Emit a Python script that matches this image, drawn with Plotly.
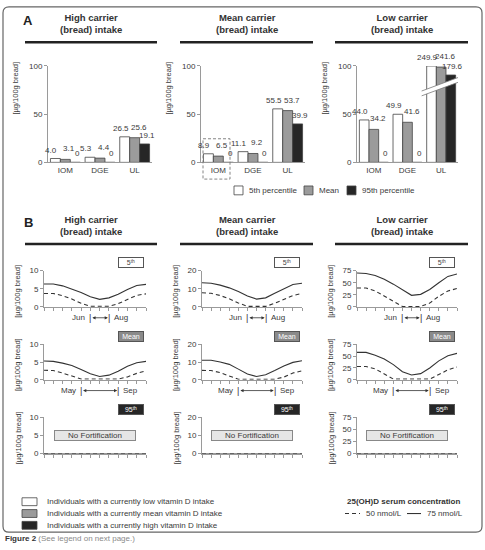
import plotly.graph_objects as go

W, H = 485, 550
FONT = "Liberation Sans, Arial, Helvetica, sans-serif"
TXT = "#3a3a3a"
AX = "#9a9a9a"

# ---------------- data ----------------
CARRIERS = ["High carrier<br>(bread) intake", "Mean carrier<br>(bread) intake", "Low carrier<br>(bread) intake"]
REFS = ["IOM", "DGE", "UL"]
PCTS = ["5th percentile", "Mean", "95th percentile"]

high_p5 = [4.0, 5.3, 26.5]
high_mean = [3.1, 4.4, 25.6]
high_p95 = [0, 0, 19.1]
meanc_p5 = [8.9, 11.1, 55.5]
meanc_mean = [6.5, 9.2, 53.7]
meanc_p95 = [0, 0, 39.9]
low_p5 = [44.0, 49.9, 249.9]
low_mean = [34.2, 41.6, 241.6]
low_p95 = [0, 0, 179.6]

MONTHS = ["Jan", "Feb", "Mar", "Apr", "May", "Jun", "Jul", "Aug", "Sep", "Oct", "Nov", "Dec"]

high_5th_75 = [6.3, 6.3, 5.8, 5.0, 4.0, 2.8, 2.1, 2.5, 3.5, 4.8, 5.9, 6.2]
high_5th_50 = [3.7, 3.7, 3.1, 2.2, 1.0, 0.2, 0.2, 0.2, 0.9, 2.1, 3.2, 3.6]
high_mean_75 = [5.3, 5.2, 4.7, 4.0, 2.9, 1.7, 0.9, 1.3, 2.4, 3.8, 4.8, 5.2]
high_mean_50 = [2.7, 2.6, 1.9, 1.0, 0.2, 0.2, 0.2, 0.2, 0.2, 0.8, 1.8, 2.5]
high_95th_75 = [0, 0, 0, 0, 0, 0, 0, 0, 0, 0, 0, 0]
high_95th_50 = [0, 0, 0, 0, 0, 0, 0, 0, 0, 0, 0, 0]

meanc_5th_75 = [13.3, 13.0, 12.0, 10.5, 8.5, 6.0, 4.3, 5.0, 7.5, 10.0, 12.3, 13.0]
meanc_5th_50 = [7.8, 7.5, 6.3, 4.5, 2.2, 0.3, 0.3, 0.3, 2.0, 4.2, 6.3, 7.4]
meanc_mean_75 = [11.0, 11.0, 10.0, 8.7, 6.0, 3.3, 1.8, 2.8, 5.2, 7.8, 9.8, 10.7]
meanc_mean_50 = [5.3, 5.2, 4.0, 2.0, 0.3, 0.3, 0.3, 0.3, 0.3, 1.5, 3.8, 5.0]
meanc_95th_75 = [0, 0, 0, 0, 0, 0, 0, 0, 0, 0, 0, 0]
meanc_95th_50 = [0, 0, 0, 0, 0, 0, 0, 0, 0, 0, 0, 0]

low_5th_75 = [70, 69, 65, 57, 47, 35, 24, 26, 36, 50, 63, 68]
low_5th_50 = [39, 39, 33, 22, 11, 1, 1, 1, 8, 22, 33, 38]
low_mean_75 = [58, 58, 52, 44, 32, 17, 10, 13, 25, 40, 51, 56]
low_mean_50 = [28, 28, 23, 12, 1.5, 1.5, 1.5, 1.5, 1.5, 11, 21, 27]
low_95th_75 = [0, 0, 0, 0, 0, 0, 0, 0, 0, 0, 0, 0]
low_95th_50 = [0, 0, 0, 0, 0, 0, 0, 0, 0, 0, 0, 0]

ROW_TAGS = ["5<sup>th</sup>", "Mean", "95<sup>th</sup>"]
ROW_WINDOWS = [("Jun", "Aug"), ("May", "Sep"), None]
LINE_YMAX = [10, 20, 75]
LINE_YTICKS = [[0, 5, 10], [0, 10, 20], [0, 25, 50, 75]]
BAR_YTICKS = [0, 50, 100]
YLABEL = "[µg/100g bread]"

bar_data = [[high_p5, high_mean, high_p95],
            [meanc_p5, meanc_mean, meanc_p95],
            [low_p5, low_mean, low_p95]]
line_data = [[(high_5th_50, high_5th_75), (high_mean_50, high_mean_75), (high_95th_50, high_95th_75)],
             [(meanc_5th_50, meanc_5th_75), (meanc_mean_50, meanc_mean_75), (meanc_95th_50, meanc_95th_75)],
             [(low_5th_50, low_5th_75), (low_mean_50, low_mean_75), (low_95th_50, low_95th_75)]]

# ---------------- layout geometry (pixels) ----------------
BAR_X = [(48, 152), (201, 305), (357, 458)]
BAR_Y = (161, 63)
LINE_X = [(44, 146), (202, 302), (357, 457)]
LINE_Y = [(308, 271), (382, 346), (457, 420)]
TITLE_CX = [91, 247, 402]
RULE_X = [(25, 157), (180, 313), (335, 468)]
BARGAP = 0.14

BAR_COLORS = ["#ffffff", "#9b9b9b", "#262626"]
TAG_BG = ["#ffffff", "#8a8a8a", "#262626"]
TAG_FG = ["#444444", "#ffffff", "#ffffff"]
LABEL_XSHIFT = [-4, 4, 2]
LABEL_YSHIFT = [2, 4, 2]


def X(p):
    return p / W


def Y(p):
    return 1 - p / H


def fmt(v):
    return "0" if v == 0 else f"{v:.1f}"


def axis_break(v):
    # broken value axis: values above 100 are drawn on a compressed upper segment
    return v if v <= 100 else 80 + (v - 100) * 20 / 150


fig = go.Figure()
layout = {}
ann = []
shapes = []
axn = [0]

base = dict(showgrid=False, zeroline=False, showline=True, linecolor=AX, linewidth=1,
            tickfont=dict(size=8, color=TXT, family=FONT), fixedrange=True)


def new_axes(xpx, ypx, xcfg, ycfg):
    axn[0] += 1
    s = "" if axn[0] == 1 else str(axn[0])
    layout["xaxis" + s] = dict(domain=[X(xpx[0]), X(xpx[1])], anchor="y" + s, **base, **xcfg)
    layout["yaxis" + s] = dict(domain=[Y(ypx[0]), Y(ypx[1])], anchor="x" + s, **base, **ycfg)
    return "x" + s, "y" + s


def text(x, y, t, size=8, color=TXT, xanchor="center", yanchor="middle", **kw):
    ann.append(dict(x=X(x), y=Y(y), xref="paper", yref="paper", text=t, showarrow=False,
                    xanchor=xanchor, yanchor=yanchor,
                    font=dict(size=size, color=color, family=FONT), **kw))


def prect(x0, y0, x1, y1, fill, line="#444", lw=0.8, dash=None):
    ln = dict(color=line, width=lw)
    if dash:
        ln["dash"] = dash
    shapes.append(dict(type="rect", xref="paper", yref="paper", x0=X(x0), x1=X(x1),
                       y0=Y(y0), y1=Y(y1), fillcolor=fill, line=ln, layer="above"))


# ---------------- panel A: bar charts ----------------
bw = (1 - BARGAP) / 3
for c in range(3):
    xa, ya = new_axes(BAR_X[c], BAR_Y,
                      dict(range=[-0.5, 2.5], tickmode="array", tickvals=[0, 1, 2], ticktext=REFS,
                           ticks=""),
                      dict(range=[0, 100], tickmode="array", tickvals=BAR_YTICKS, ticks="outside",
                           ticklen=3, tickcolor=AX))
    for s in range(3):
        vals = bar_data[c][s]
        disp = [axis_break(v) for v in vals]
        fig.add_bar(x=[0, 1, 2], y=disp, xaxis=xa, yaxis=ya,
                    marker=dict(color=BAR_COLORS[s], line=dict(color="#444", width=0.8)),
                    cliponaxis=False, showlegend=False, hoverinfo="skip", name=PCTS[s])
        for i, (v, d) in enumerate(zip(vals, disp)):
            ann.append(dict(x=i + (s - 1) * bw, y=d, xref=xa, yref=ya, text=fmt(v), showarrow=False,
                            xanchor="center", yanchor="bottom", xshift=LABEL_XSHIFT[s],
                            yshift=LABEL_YSHIFT[s], font=dict(size=8, color=TXT, family=FONT)))
    text(BAR_X[c][0] - 32, 86, YLABEL, size=7.5, textangle=-90)
    if c == 2:
        # axis break mark across the UL group
        shapes.append(dict(type="path", xref=xa, yref=ya, layer="above",
                           path="M 1.42 69 L 2.5 83 L 2.5 88 L 1.42 74 Z",
                           fillcolor="#ffffff", line=dict(width=0)))
        for yb in (69, 74):
            shapes.append(dict(type="line", xref=xa, yref=ya, layer="above",
                               x0=1.42, y0=yb, x1=2.5, y1=yb + 14, line=dict(color="#777", width=0.8)))

# dashed box around IOM in the middle chart
prect(203, 137, 230, 178, "rgba(0,0,0,0)", line="#777", lw=0.9, dash="3px,2px")

# panel A legend
lx = [(234, 243, 247), (304, 313, 317), (347, 356, 360)]
for s in range(3):
    prect(lx[s][0], 185, lx[s][1], 194, BAR_COLORS[s])
    text(lx[s][2], 189.5, PCTS[s], size=8, xanchor="left")

# ---------------- panel B: line charts ----------------
for c in range(3):
    for r in range(3):
        xa, ya = new_axes(LINE_X[c], LINE_Y[r],
                          dict(range=[0, 11], tickmode="array", tickvals=list(range(12)),
                               showticklabels=False, ticks="outside", ticklen=3, tickcolor=AX),
                          dict(range=[0, LINE_YMAX[c]], tickmode="array", tickvals=LINE_YTICKS[c],
                               ticks="outside", ticklen=3, tickcolor=AX))
        d50, d75 = line_data[c][r]
        idx = list(range(len(MONTHS)))
        fig.add_scatter(x=idx, y=d75, xaxis=xa, yaxis=ya, mode="lines", cliponaxis=False,
                        line=dict(color="#333", width=1.1), showlegend=False, hoverinfo="skip")
        fig.add_scatter(x=idx, y=d50, xaxis=xa, yaxis=ya, mode="lines", cliponaxis=False,
                        line=dict(color="#333", width=1.1, dash="4px,3px"), showlegend=False,
                        hoverinfo="skip")
        x0, x1 = LINE_X[c]
        ybot, ytop = LINE_Y[r]
        text(x0 - 26, (ybot + ytop) / 2 + 3, YLABEL, size=7.5, textangle=-90)
        # percentile tag
        ann.append(dict(x=X(x1 - 2), y=Y(ytop - 8), xref="paper", yref="paper", text=ROW_TAGS[r],
                        showarrow=False, xanchor="right", yanchor="middle", width=24, height=9,
                        bgcolor=TAG_BG[r], bordercolor="#555", borderwidth=1, borderpad=0,
                        font=dict(size=7, color=TAG_FG[r], family=FONT)))
        if r == 2:
            ann.append(dict(x=5.5, y=LINE_YMAX[c] / 2, xref=xa, yref=ya, text="No Fortification",
                            showarrow=False, width=80, height=9, bgcolor="#e6e6e6",
                            bordercolor="#888", borderwidth=1, borderpad=0,
                            font=dict(size=8, color=TXT, family=FONT)))
        win = ROW_WINDOWS[r]
        if win:
            ia, ib = MONTHS.index(win[0]), MONTHS.index(win[1])
            yp = Y(ybot + 11)
            base_ann = dict(xref=xa, yref="paper", y=yp, showarrow=False, yanchor="middle",
                            font=dict(size=8, color=TXT, family=FONT))
            ann.append(dict(base_ann, x=ia, text=win[0], xanchor="right", xshift=-3))
            ann.append(dict(base_ann, x=ib, text=win[1], xanchor="left", xshift=3))
            for ii in (ia, ib):
                ann.append(dict(base_ann, x=ii, text="|", xanchor="center",
                                font=dict(size=9, color="#333", family=FONT)))
            ann.append(dict(x=ib, y=yp, xref=xa, yref="paper", ax=ia, ay=0, axref=xa, ayref="pixel",
                            text=" ", showarrow=True, arrowhead=2, startarrowhead=2,
                            arrowside="end+start", arrowsize=0.8, startarrowsize=0.8,
                            arrowwidth=0.8, arrowcolor="#333", standoff=1, startstandoff=0,
                            font=dict(size=2)))

# ---------------- headings ----------------
text(28, 17, "<b>A</b>", size=13, color="#222")
text(28, 222, "<b>B</b>", size=13, color="#222")
for c in range(3):
    text(TITLE_CX[c], 19.5, "<b>" + CARRIERS[c] + "</b>", size=9.5, color="#333")
    text(TITLE_CX[c], 225, "<b>" + CARRIERS[c] + "</b>", size=9.5, color="#333")
    for yy in (39, 244):
        shapes.append(dict(type="line", xref="paper", yref="paper", x0=X(RULE_X[c][0]),
                           x1=X(RULE_X[c][1]), y0=Y(yy), y1=Y(yy), line=dict(color="#222", width=2.5)))

# ---------------- bottom legends ----------------
GROUP_LABELS = ["Individuals with a currently low vitamin D intake",
                "Individuals with a currently mean vitamin D intake",
                "Individuals with a currently high vitamin D intake"]
for s in range(3):
    yy = 506 + 12 * s
    prect(22, yy - 4, 37, yy + 4, BAR_COLORS[s])
    text(45, yy, GROUP_LABELS[s], size=8, xanchor="left")

text(403, 506, "<b>25(OH)D serum concentration</b>", size=8, color="#333")
shapes.append(dict(type="line", xref="paper", yref="paper", x0=X(345), x1=X(360), y0=Y(518), y1=Y(518),
                   line=dict(color="#333", width=1.1, dash="4px,3px")))
text(364, 518, "50 nmol/L", size=8, xanchor="left")
shapes.append(dict(type="line", xref="paper", yref="paper", x0=X(407), x1=X(421), y0=Y(518), y1=Y(518),
                   line=dict(color="#333", width=1.1)))
text(425, 518, "75 nmol/L", size=8, xanchor="left")


# figure border (rounded) and caption
def rpath(x0, y0, x1, y1, r):
    pts = [f"M {X(x0 + r)} {Y(y0)}", f"L {X(x1 - r)} {Y(y0)}",
           f"Q {X(x1)} {Y(y0)} {X(x1)} {Y(y0 + r)}", f"L {X(x1)} {Y(y1 - r)}",
           f"Q {X(x1)} {Y(y1)} {X(x1 - r)} {Y(y1)}", f"L {X(x0 + r)} {Y(y1)}",
           f"Q {X(x0)} {Y(y1)} {X(x0)} {Y(y1 - r)}", f"L {X(x0)} {Y(y0 + r)}",
           f"Q {X(x0)} {Y(y0)} {X(x0 + r)} {Y(y0)} Z"]
    return " ".join(pts)


shapes.append(dict(type="path", xref="paper", yref="paper", path=rpath(3, 3, 482, 537, 6),
                   line=dict(color="#666", width=1.2), fillcolor="rgba(0,0,0,0)"))
text(3, 543, "<b>Figure 2</b> <span style='color:#8a8a8a'>(See legend on next page.)</span>",
     size=8, color="#333", xanchor="left")

fig.update_layout(width=W, height=H, margin=dict(l=0, r=0, t=0, b=0),
                  paper_bgcolor="#ffffff", plot_bgcolor="#ffffff",
                  barmode="group", bargap=BARGAP, bargroupgap=0,
                  font=dict(family=FONT, color=TXT), showlegend=False,
                  annotations=ann, shapes=shapes, **layout)

fig.write_html("out.html", config={"displayModeBar": False},
               post_script="document.body.style.margin='0px';document.body.style.overflow='hidden';")
